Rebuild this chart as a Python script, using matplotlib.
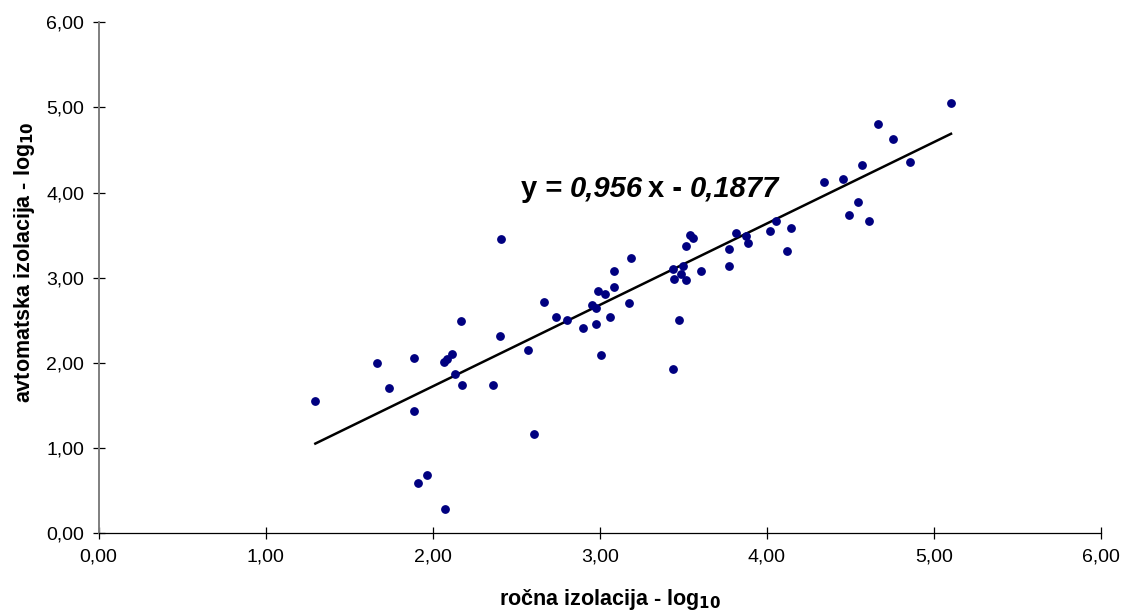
import matplotlib
matplotlib.use("Agg")
import matplotlib.pyplot as plt
from matplotlib.ticker import FuncFormatter, MultipleLocator

plt.rcParams['font.family'] = ['Liberation Sans', 'DejaVu Sans']

# ročna izolacija (x) vs. avtomatska izolacija (y), log10
rocna = [1.297, 1.666, 1.740, 1.889, 1.889, 1.913, 1.967, 2.069, 2.087, 2.117,
         2.131, 2.175, 2.075, 2.171, 2.404, 2.362, 2.572, 2.606, 2.408, 2.665,
         2.737, 2.803, 2.899, 2.955, 2.975, 2.975, 3.005, 2.991, 3.031, 3.061,
         3.085, 3.085, 3.173, 3.185, 3.436, 3.440, 3.442, 3.476, 3.484, 3.496,
         3.517, 3.516, 3.540, 3.559, 3.606, 3.773, 3.775, 3.817, 3.875, 3.885,
         4.019, 4.055, 4.119, 4.143, 4.344, 4.457, 4.568, 4.544, 4.490, 4.610,
         4.667, 4.753, 4.858, 5.102]
avtomatska = [1.549, 2.002, 1.709, 2.054, 1.439, 0.590, 0.687, 2.007, 2.046, 2.108,
              1.870, 1.740, 0.288, 2.496, 2.319, 1.740, 2.146, 1.165, 3.452, 2.715,
              2.543, 2.504, 2.406, 2.676, 2.645, 2.460, 2.089, 2.848, 2.813, 2.543,
              2.891, 3.076, 2.703, 3.232, 1.932, 3.103, 2.989, 2.504, 3.044, 3.138,
              2.970, 3.369, 3.506, 3.470, 3.083, 3.142, 3.341, 3.529, 3.490, 3.408,
              3.549, 3.670, 3.311, 3.581, 4.125, 4.160, 4.324, 3.893, 3.737, 3.670,
              4.809, 4.633, 4.359, 5.049]

# trendline from the chart's equation
SLOPE = 0.956
INTERCEPT = -0.1877


def comma_fmt(v, pos):
    return f"{v:.2f}".replace(".", ",")


fig = plt.figure(figsize=(11.38, 6.10), dpi=100)
ax = fig.add_axes([0.0867, 0.1259, 0.8808, 0.8377])

ax.plot(rocna, avtomatska, linestyle="none", marker="o", markersize=5.3,
        color="#000080", zorder=3)

x0, x1 = min(rocna), max(rocna)
ax.plot([x0, x1], [SLOPE * x0 + INTERCEPT, SLOPE * x1 + INTERCEPT],
        color="black", linewidth=1.8, zorder=2)

ax.set_xlim(0, 6)
ax.set_ylim(0, 6)
ax.xaxis.set_major_locator(MultipleLocator(1))
ax.yaxis.set_major_locator(MultipleLocator(1))
ax.xaxis.set_major_formatter(FuncFormatter(comma_fmt))
ax.yaxis.set_major_formatter(FuncFormatter(comma_fmt))

for side in ["top", "right"]:
    ax.spines[side].set_visible(False)
ax.spines["left"].set_color("#7f7f7f")
ax.spines["left"].set_linewidth(1.4)
ax.spines["bottom"].set_color("black")
ax.spines["bottom"].set_linewidth(0.9)

ax.tick_params(axis="both", direction="inout", length=8.6, width=0.9,
               colors="black", labelsize=14)
ax.tick_params(axis="x", pad=7)
ax.tick_params(axis="y", pad=6)

ax.set_xlabel(r"ročna izolacija - log$_{\mathbf{10}}$", fontsize=15.5,
              fontweight="bold")
ax.xaxis.label.set_va("baseline")
ax.xaxis.set_label_coords(0.51, -0.1405)

ax.set_ylabel(r"avtomatska izolacija - log$_{\mathbf{10}}$", fontsize=15.5,
              fontweight="bold")
ax.yaxis.label.set_va("center")
ax.yaxis.set_label_coords(-0.074, 0.53)

# equation label, mixed upright / italic pieces
t = ax.text(2.526, 3.952, "y = ", fontsize=21, fontweight="bold",
            va="baseline", ha="left")
t = ax.annotate("0,956", xycoords=t, xy=(1, 0), va="bottom", fontsize=21,
                fontweight="bold", fontstyle="italic")
t = ax.annotate("x - ", xycoords=t, xy=(1, 0), xytext=(3, 0),
                textcoords="offset points", va="bottom", fontsize=21,
                fontweight="bold")
t = ax.annotate("0,1877", xycoords=t, xy=(1, 0), va="bottom", fontsize=21,
                fontweight="bold", fontstyle="italic")

fig.savefig("out.png", dpi=100)
